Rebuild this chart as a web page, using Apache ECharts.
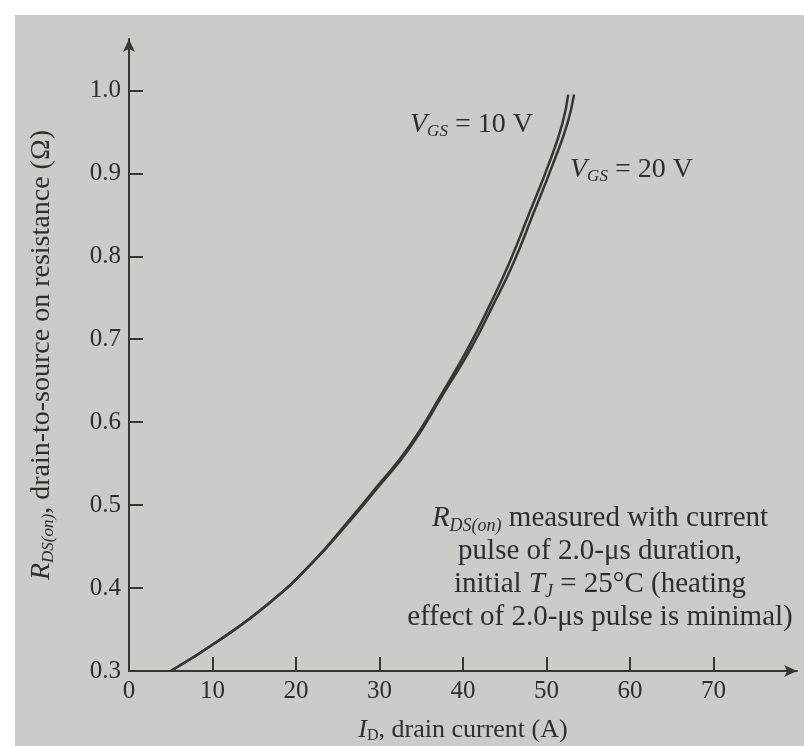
<!DOCTYPE html>
<html><head><meta charset="utf-8">
<script src="https://cdn.jsdelivr.net/npm/echarts@6/dist/echarts.min.js"></script>
<style>
html,body{margin:0;padding:0;background:#fff;}
#wrap{position:relative;width:804px;height:746px;background:#fff;overflow:hidden;}
#paper{position:absolute;left:15px;top:15px;right:0;bottom:0;background:#cbcbc7;}
#c{position:absolute;left:0;top:0;width:804px;height:746px;}
</style>
</head><body>
<div id="wrap"><div id="paper"></div><div id="c"></div></div>
<script>
// Tick labels
const xTicks = [0, 10, 20, 30, 40, 50, 60, 70];
const yTicks = [0.3, 0.4, 0.5, 0.6, 0.7, 0.8, 0.9, 1.0];
// Series: [drain current (A), R_DS(on) (ohm)]
const vgs10 = [[5,0.300],[10.8,0.337],[16.8,0.382],[21.9,0.430],[26.7,0.486],[29.5,0.520],[33.5,0.570],[37.5,0.635],[40.7,0.691],[43.1,0.739],[45.5,0.791],[47.9,0.851],[50.3,0.912],[51.9,0.960],[52.6,0.995]];
const vgs20 = [[5,0.300],[10.8,0.337],[16.8,0.382],[21.9,0.430],[26.8,0.485],[29.7,0.520],[33.7,0.570],[37.7,0.635],[41.0,0.690],[43.5,0.739],[46.0,0.791],[48.4,0.851],[50.8,0.912],[52.5,0.960],[53.3,0.995]];

const serif = '"Liberation Serif","DejaVu Serif",serif';
const ink = '#363636';
const txt = '#2e2e2e';
function richSet(size, sub, lh) {
  return {
    i: {fontFamily: serif, fontSize: size, fontStyle: 'italic', color: txt, fill: txt, lineHeight: lh},
    sub: {fontFamily: serif, fontSize: sub, fontStyle: 'italic', color: txt, fill: txt, verticalAlign: 'bottom', padding: [Math.round(size*0.45),0,0,0], lineHeight: lh},
    subn: {fontFamily: serif, fontSize: sub, color: txt, fill: txt, verticalAlign: 'bottom', padding: [Math.round(size*0.45),0,0,0], lineHeight: lh},
    t: {fontFamily: serif, fontSize: size, color: txt, fill: txt, lineHeight: lh}
  };
}
const chart = echarts.init(document.getElementById('c'), null, {renderer:'canvas'});
chart.setOption({
  backgroundColor: 'transparent',
  animation: false,
  grid: {left: 129, right: 7, top: 39, bottom: 75, containLabel: false, outerBoundsMode: 'none'},
  xAxis: {
    type: 'value', min: 0, max: 80,
    splitLine: {show: false},
    axisLine: {show: true, symbol: ['none','arrow'], symbolSize: [9, 13], lineStyle: {color: ink, width: 2}},
    axisTick: {show: true, inside: true, length: 14, lineStyle: {color: ink, width: 2}, customValues: xTicks},
    axisLabel: {color: txt, fontFamily: serif, fontSize: 25, margin: 8, customValues: xTicks},
    name: '{i|I}{subn|D}{t|, drain current (A)}',
    nameLocation: 'middle', nameGap: 45,
    nameTextStyle: {rich: richSet(26, 16, 28)}
  },
  yAxis: {
    type: 'value', min: 0.3, max: 1.062,
    splitLine: {show: false},
    axisLine: {show: true, symbol: ['none','arrow'], symbolSize: [9, 13], lineStyle: {color: ink, width: 2}},
    axisTick: {show: true, inside: true, length: 14, lineStyle: {color: ink, width: 2}, customValues: yTicks},
    axisLabel: {color: txt, fontFamily: serif, fontSize: 25, margin: 8, customValues: yTicks,
      formatter: v => v.toFixed(1)},
    name: '{i|R}{sub|DS(on)}{t|, drain-to-source on resistance (Ω)}',
    nameLocation: 'middle', nameGap: 72, nameRotate: 90,
    nameTextStyle: {rich: richSet(28, 17, 30)}
  },
  series: [
    {name: 'VGS = 10 V', type: 'line', data: vgs10, smooth: true, showSymbol: false,
     lineStyle: {color: ink, width: 2.5}},
    {name: 'VGS = 20 V', type: 'line', data: vgs20, smooth: true, showSymbol: false,
     lineStyle: {color: ink, width: 2.5}}
  ],
  graphic: [
    {type: 'text', left: 410, top: 110, style: {
      text: '{i|V}{sub|GS}{t| = 10 V}', rich: richSet(28, 17, 30)}},
    {type: 'text', left: 570, top: 155, style: {
      text: '{i|V}{sub|GS}{t| = 20 V}', rich: richSet(28, 17, 30)}},
    {type: 'text', x: 600, y: 502, style: {
      text: '{i|R}{sub|DS(on)}{t| measured with current}\n{t|pulse of 2.0-μs duration,}\n{t|initial }{i|T}{sub|J}{t| = 25°C (heating}\n{t|effect of 2.0-μs pulse is minimal)}',
      align: 'center', verticalAlign: 'top',
      rich: richSet(29, 18, 33)}}
  ]
});
</script>
</body></html>
